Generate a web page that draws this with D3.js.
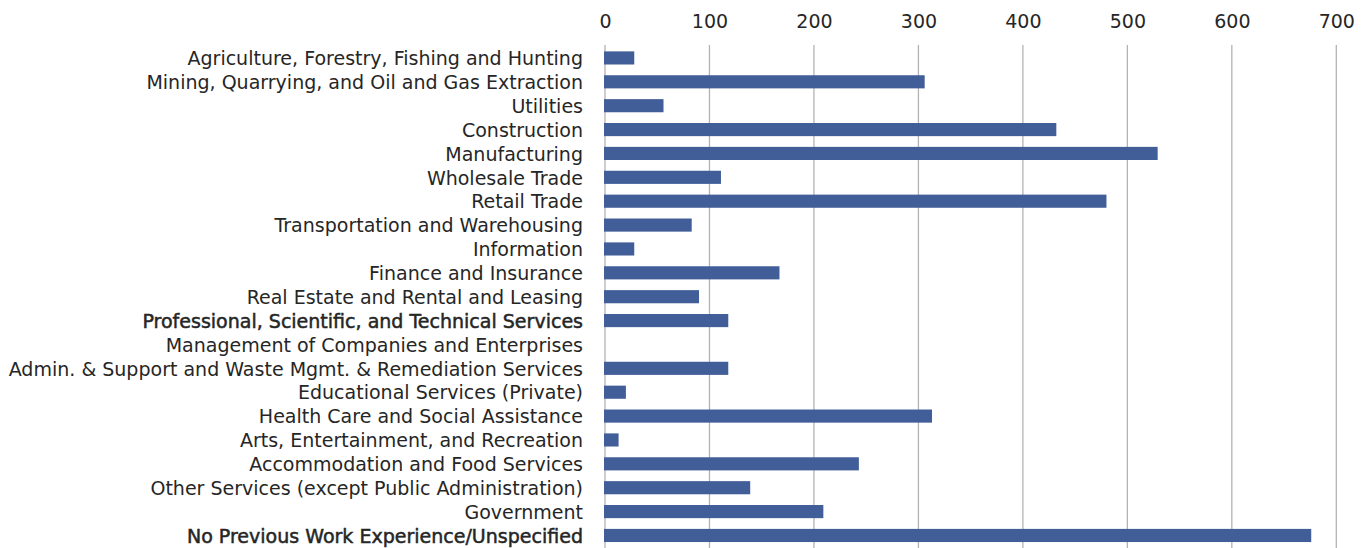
<!DOCTYPE html>
<html><head><meta charset="utf-8">
<script src="https://cdn.jsdelivr.net/npm/d3@7"></script>
<style>
html,body{margin:0;padding:0;background:#fff;}
svg text{font-family:"DejaVu Sans",sans-serif;fill:#262626;}
</style></head>
<body><svg id="c" width="1368" height="548"></svg>
<script>
const categories = [
"Agriculture, Forestry, Fishing and Hunting",
"Mining, Quarrying, and Oil and Gas Extraction",
"Utilities",
"Construction",
"Manufacturing",
"Wholesale Trade",
"Retail Trade",
"Transportation and Warehousing",
"Information",
"Finance and Insurance",
"Real Estate and Rental and Leasing",
"Professional, Scientific, and Technical Services",
"Management of Companies and Enterprises",
"Admin. & Support and Waste Mgmt. & Remediation Services",
"Educational Services (Private)",
"Health Care and Social Assistance",
"Arts, Entertainment, and Recreation",
"Accommodation and Food Services",
"Other Services (except Public Administration)",
"Government",
"No Previous Work Experience/Unspecified"
];
const values = [28,306,56,432,529,111,480,83,28,167,90,118,0,118,20,313,13,243,139,209,676];
const boldCategories = ["Professional, Scientific, and Technical Services","No Previous Work Experience/Unspecified"];
const tickValues = [0,100,200,300,400,500,600,700];

const svg = d3.select("#c");
const x = d3.scaleLinear().domain([0,700]).range([605,1336.3]);
const y = d3.scaleBand().domain(categories).range([46,547.4]).paddingInner(0.45).paddingOuter(0.225);

svg.append("g").selectAll("line").data(tickValues).join("line")
  .attr("x1",d=>x(d)).attr("x2",d=>x(d)).attr("y1",45).attr("y2",548)
  .attr("stroke","#b3b3b3").attr("stroke-width",1.3);

const ax = svg.append("g").attr("transform","translate(0,28)")
  .call(d3.axisTop(x).tickValues(tickValues).tickSize(0).tickPadding(0));
ax.select(".domain").remove();
ax.selectAll("text").attr("font-size",19).attr("fill","#262626").style("font-family","'DejaVu Sans',sans-serif");

svg.append("g").selectAll("rect").data(values).join("rect")
  .attr("x",x(0)-1).attr("y",(d,i)=>y(categories[i]))
  .attr("width",d=>d>0?x(d)-x(0)+1:0).attr("height",y.bandwidth())
  .attr("fill","#425e99");

const yl = svg.append("g").attr("transform","translate(604,0)")
  .call(d3.axisLeft(y).tickSize(0).tickPadding(21));
yl.select(".domain").remove();
const lbl = yl.selectAll("text").attr("font-size",17).attr("fill","#262626")
  .style("font-family","'DejaVu Sans',sans-serif")
  .attr("dy","0.38em")
  .attr("stroke",d=>boldCategories.includes(d)?"#262626":"none")
  .attr("stroke-width",d=>boldCategories.includes(d)?0.5:0);
const widest = lbl.filter(d=>d===categories[13]).node();
const w = widest.getComputedTextLength();
lbl.attr("font-size",17*575/w);
</script></body></html>
